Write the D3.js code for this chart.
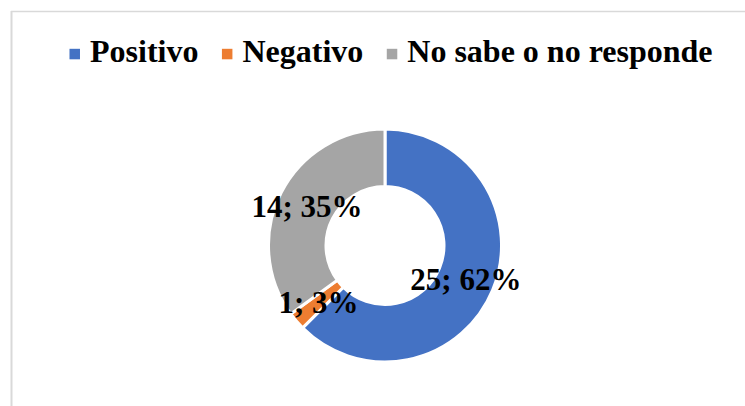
<!DOCTYPE html>
<html><head><meta charset="utf-8">
<script src="https://cdn.jsdelivr.net/npm/d3@7"></script>
<style>html,body{margin:0;padding:0;background:#fff;}svg{display:block;}</style>
</head><body>
<svg id="c" width="745" height="406"></svg>
<script>
const categories = ["Positivo", "Negativo", "No sabe o no responde"];
const counts = [25, 1, 14];
const percents = ["62%", "3%", "35%"];
const colors = ["#4472C4", "#ED7D31", "#A5A5A5"];

const W = 745, H = 406;
const svg = d3.select("#c");
const font = "'Liberation Serif','Times New Roman',serif";

// chart border (left & top visible)
svg.append("line").attr("x1", 11.5).attr("y1", 11).attr("x2", 11.5).attr("y2", H).attr("stroke", "#d9d9d9").attr("stroke-width", 2);
svg.append("line").attr("x1", 11).attr("y1", 11.5).attr("x2", W).attr("y2", 11.5).attr("stroke", "#d9d9d9").attr("stroke-width", 1.5);

const cx = 385, cy = 245.5;
const pie = d3.pie().sort(null).value(d => d)(counts);
const arc = d3.arc().innerRadius(59).outerRadius(116.5);
const labelArc = d3.arc().innerRadius(60.5).outerRadius(114.5);
const g = svg.append("g").attr("transform", `translate(${cx},${cy})`);
g.selectAll("path").data(pie).join("path")
  .attr("d", arc)
  .attr("fill", (d, i) => colors[i])
  .attr("stroke", "#fff").attr("stroke-width", 3).attr("stroke-linejoin", "miter");
g.selectAll("text").data(pie).join("text")
  .attr("transform", d => `translate(${labelArc.centroid(d)})`)
  .attr("text-anchor", "middle").attr("dy", "0.35em")
  .attr("font-family", font).attr("font-weight", "bold").attr("font-size", 31)
  .attr("fill", "#000")
  .text((d, i) => `${counts[i]}; ${percents[i]}`);

// legend
const lg = svg.append("g");
const items = categories.map((c, i) => {
  const it = lg.append("g");
  it.append("rect").attr("x", 0).attr("y", -13.5).attr("width", 10.5).attr("height", 10.5).attr("fill", colors[i]);
  const t = it.append("text").attr("x", 20.5).attr("y", 0)
    .attr("font-family", font).attr("font-weight", "bold").attr("font-size", 32).attr("fill", "#000").text(c);
  return {it, w: 20.5 + t.node().getComputedTextLength()};
});
const gap = 23.5;
const total = d3.sum(items, d => d.w) + gap * (items.length - 1);
let x = 391 - total / 2;
items.forEach(d => { d.it.attr("transform", `translate(${x},62.3)`); x += d.w + gap; });
</script>
</body></html>
